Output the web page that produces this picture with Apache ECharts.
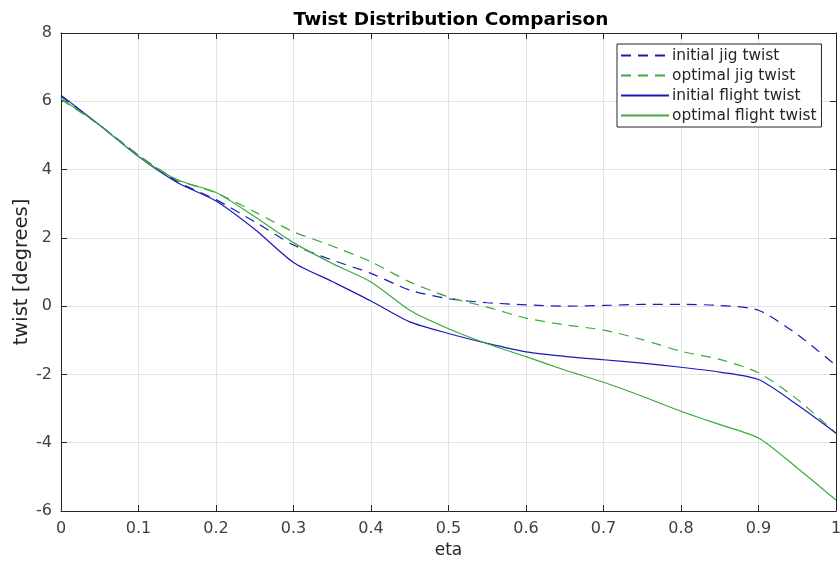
<!DOCTYPE html>
<html>
<head>
<meta charset="utf-8">
<script src="https://cdn.jsdelivr.net/npm/echarts@6/dist/echarts.min.js"></script>
<style>
  html, body { margin: 0; padding: 0; background: #fff; }
  #chart { width: 840px; height: 564px; }
</style>
</head>
<body>
<div id="chart"></div>
<script>
const eta = [0, 0.05, 0.1, 0.15, 0.2, 0.25, 0.3, 0.35, 0.4, 0.45, 0.5,
  0.55, 0.6, 0.65, 0.7, 0.75, 0.8, 0.85, 0.9, 0.95, 1.0];

const initialJig = [6.15, 5.3, 4.42, 3.65, 3.12, 2.47, 1.79, 1.35, 0.96, 0.47, 0.22,
  0.1, 0.04, 0.0, 0.02, 0.05, 0.05, 0.02, -0.12, -0.83, -1.74];
const optimalJig = [6.05, 5.3, 4.42, 3.7, 3.32, 2.76, 2.18, 1.76, 1.3, 0.71, 0.27,
  -0.03, -0.35, -0.55, -0.7, -0.98, -1.32, -1.56, -1.95, -2.73, -3.72];
const initialFlight = [6.18, 5.3, 4.38, 3.62, 3.08, 2.25, 1.28, 0.72, 0.15, -0.46, -0.8,
  -1.09, -1.34, -1.47, -1.57, -1.67, -1.79, -1.93, -2.15, -2.89, -3.72];
const optimalFlight = [6.08, 5.3, 4.38, 3.7, 3.33, 2.62, 1.86, 1.25, 0.71, -0.12, -0.66,
  -1.1, -1.48, -1.87, -2.23, -2.64, -3.08, -3.47, -3.86, -4.74, -5.68];

const BLUE = '#1a1ab8';
const GREEN = '#3aaa3a';
const AXIS = '#262626';
const FONT = 'DejaVu Sans';

const pair = (ys) => eta.map((x, i) => [x, ys[i]]);

function line(name, ys, color, dashed) {
  return {
    name,
    type: 'line',
    data: pair(ys),
    symbol: 'none',
    smooth: 0.25,
    lineStyle: { color, width: 1.2, type: dashed ? [10, 7] : 'solid' },
    itemStyle: { color },
  };
}

const chart = echarts.init(document.getElementById('chart'));
chart.setOption({
  animation: false,
  textStyle: { fontFamily: FONT },
  title: {
    text: 'Twist Distribution Comparison',
    left: 446,
    top: 6,
    textAlign: 'center',
    textStyle: { fontSize: 18.5, fontWeight: 'bold', color: '#000', fontFamily: FONT },
  },
  legend: {
    orient: 'vertical',
    left: 617,
    top: 44,
    itemWidth: 48,
    itemHeight: 14,
    itemGap: 5,
    padding: [4, 5, 4, 3],
    backgroundColor: '#fff',
    borderColor: AXIS,
    borderWidth: 1,
    borderRadius: 0,
    itemStyle: { opacity: 0 },
    textStyle: { fontSize: 15.4, color: '#262626', fontFamily: FONT, padding: [0, 0, 0, -2] },
    data: ['initial jig twist', 'optimal jig twist', 'initial flight twist', 'optimal flight twist'],
  },
  grid: { left: 61, right: 4, top: 33, bottom: 53, outerBoundsMode: 'none', containLabel: false },
  xAxis: [
    {
      type: 'value', min: 0, max: 1, interval: 0.1,
      name: 'eta', nameLocation: 'middle', nameGap: 31, nameMoveOverlap: false,
      nameTextStyle: { fontSize: 17, color: '#262626' },
      axisLine: { onZero: false, lineStyle: { color: AXIS, width: 1 } },
      axisTick: { inside: true, length: 6, lineStyle: { color: AXIS } },
      axisLabel: { fontSize: 16, color: '#404040', margin: 10,
        formatter: (v) => String(Math.round(v * 10) / 10) },
      splitLine: { show: true, lineStyle: { color: '#e3e3e3', width: 1 } },
    },
    {
      type: 'value', min: 0, max: 1, interval: 0.1, position: 'top',
      axisLine: { onZero: false, lineStyle: { color: AXIS, width: 1 } },
      axisTick: { inside: true, length: 6, lineStyle: { color: AXIS } },
      axisLabel: { show: false },
      splitLine: { show: false },
    },
  ],
  yAxis: [
    {
      type: 'value', min: -6, max: 8, interval: 2,
      name: 'twist [degrees]', nameLocation: 'middle', nameGap: 29, nameMoveOverlap: false,
      nameTextStyle: { fontSize: 19.5, color: '#262626' },
      axisLine: { show: true, onZero: false, lineStyle: { color: AXIS, width: 1 } },
      axisTick: { show: true, inside: true, length: 6, lineStyle: { color: AXIS } },
      axisLabel: { fontSize: 16, color: '#404040', margin: 9 },
      splitLine: { show: true, lineStyle: { color: '#e3e3e3', width: 1 } },
    },
    {
      type: 'value', min: -6, max: 8, interval: 2, position: 'right',
      axisLine: { show: true, onZero: false, lineStyle: { color: AXIS, width: 1 } },
      axisTick: { show: true, inside: true, length: 6, lineStyle: { color: AXIS } },
      axisLabel: { show: false },
      splitLine: { show: false },
    },
  ],
  series: [
    line('initial jig twist', initialJig, BLUE, true),
    line('optimal jig twist', optimalJig, GREEN, true),
    line('initial flight twist', initialFlight, BLUE, false),
    line('optimal flight twist', optimalFlight, GREEN, false),
  ],
});
</script>
</body>
</html>
